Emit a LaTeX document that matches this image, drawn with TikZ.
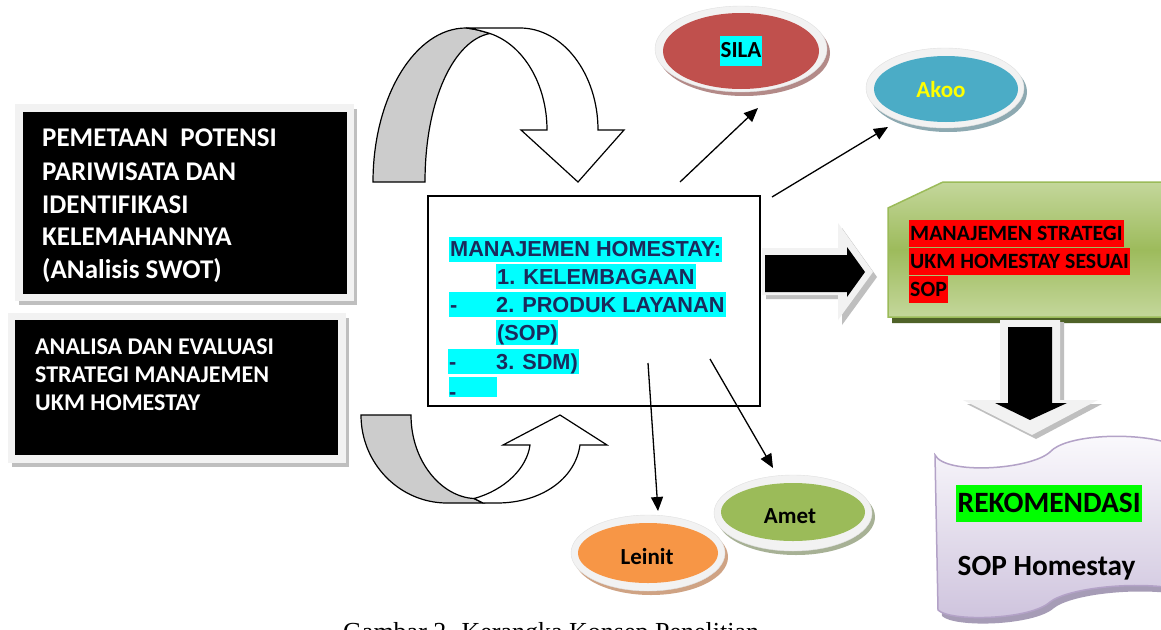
\documentclass[tikz,border=0pt]{standalone}
\usepackage{fontspec}
\setmainfont{Carlito}
\newfontfamily\arialf{Liberation Sans}
\newfontfamily\timesf{Liberation Serif}
\usetikzlibrary{shapes.geometric,arrows.meta}
\definecolor{navytext}{HTML}{1B2A5C}
\definecolor{rimgray}{HTML}{F2F2F2}
\definecolor{shgray}{HTML}{BFBFBF}
\definecolor{bandgray}{HTML}{CCCCCC}
\definecolor{silared}{HTML}{C0504D}
\definecolor{silash}{HTML}{B38A88}
\definecolor{akooblue}{HTML}{4BACC6}
\definecolor{akoosh}{HTML}{8DA9B1}
\definecolor{leinitor}{HTML}{F79646}
\definecolor{leinitsh}{HTML}{CFA384}
\definecolor{ametgr}{HTML}{9BBB59}
\definecolor{ametsh}{HTML}{A7B195}
\definecolor{grlight}{HTML}{C4D79B}
\definecolor{grmid}{HTML}{9DBB5C}
\definecolor{grline}{HTML}{9BBB59}
\definecolor{grdark}{HTML}{4F6228}
\definecolor{lavtop}{HTML}{FBFAFD}
\definecolor{lavbot}{HTML}{CEC3DD}
\definecolor{lavline}{HTML}{B3A2C7}
\definecolor{lavsh}{HTML}{A69CB6}
\definecolor{hlcyan}{HTML}{00FFFF}
\definecolor{hlred}{HTML}{FF0000}
\definecolor{hlgreen}{HTML}{00FF00}
\definecolor{akootext}{HTML}{FFFF00}
\begin{document}
\begin{tikzpicture}[x=1pt,y=-1pt,
  blackbox/.style={fill=black, inner sep=0pt},
  wline/.style={anchor=west, inner sep=0pt, text=white, text height=17pt, text depth=0pt, font=\bfseries\fontsize{27}{32}\selectfont},
  wlinesm/.style={anchor=west, inner sep=0pt, text=white, text height=15.2pt, text depth=0pt, font=\bfseries\fontsize{24}{28}\selectfont},
  navyline/.style={anchor=west, fill=hlcyan, text=navytext, inner xsep=1pt, inner ysep=0pt, minimum height=25pt, text height=15.5pt, text depth=0pt, font=\arialf\bfseries\fontsize{21.7}{25}\selectfont},
  redline/.style={anchor=west, fill=hlred, text=black, inner xsep=1pt, inner ysep=0pt, minimum height=27pt, text height=13.9pt, text depth=0pt, font=\bfseries\fontsize{21.8}{26}\selectfont},
  ell/.style={ellipse, inner sep=0pt},
  rim/.style={ell, fill=rimgray, draw=black!12, line width=0.4pt},
  elltext/.style={inner sep=0pt, text height=14.5pt, text depth=0pt, font=\bfseries\fontsize{23}{27}\selectfont},
  thinarrow/.style={line width=1.3pt, -{Triangle[length=14pt,width=12pt]}},
  band/.style={draw=black, line width=1.2pt, line join=miter},
  blockout/.style={fill=rimgray},
  blockshadow/.style={fill=shgray}
]
\useasboundingbox (0,0) rectangle (1161,629);
\fill[white] (0,0) rectangle (1161,629);

% ---------- left black boxes ----------
\fill[shgray] (19,109) rectangle (357,305);
\fill[rimgray] (15,104) rectangle (354,301);
\node[blackbox, minimum width=324pt, minimum height=182pt] (b1) at (185,203) {};
\node[wline] (b1l1) at (42,138) {PEMETAAN\ \ POTENSI};
\node[wline] (b1l2) at (42,172) {PARIWISATA DAN};
\node[wline] (b1l3) at (42,205) {IDENTIFIKASI};
\node[wline] (b1l4) at (42,237) {KELEMAHANNYA};
\node[wline] (b1l5) at (42,270) {(ANalisis SWOT)};

\fill[shgray] (12,318) rectangle (349,467);
\fill[rimgray] (8,313) rectangle (346,463);
\node[blackbox, minimum width=323pt, minimum height=135pt] (b2) at (176.5,387.5) {};
\node[wlinesm] (b2l1) at (35,347) {ANALISA DAN EVALUASI};
\node[wlinesm] (b2l2) at (35,375) {STRATEGI MANAJEMEN};
\node[wlinesm] (b2l3) at (35,403) {UKM HOMESTAY};

% ---------- top curved arrow ----------
\path[band, fill=bandgray] (373,182) .. controls (373,97) and (415,28) .. (466,28)
   .. controls (475,29) and (482,31) .. (490,33.5)
   .. controls (454,40) and (425,100) .. (425,182) -- cycle;
\path[band, fill=white] (466,28) -- (520,28) .. controls (563,28) and (598,74) .. (598,130)
   -- (624,130) -- (578,182) -- (521,130) -- (547,130)
   .. controls (547,85) and (524,45) .. (490,33.5)
   .. controls (482,31) and (475,29) .. (466,28) -- cycle;

% ---------- bottom curved arrow ----------
\path[band, fill=bandgray] (361,415) -- (411,415) .. controls (411,462) and (442,497) .. (474,498.5)
   -- (483,503) -- (447,503) .. controls (400,503) and (361,464) .. (361,415) -- cycle;
\path[band, fill=white] (474,498.5) .. controls (505,490) and (527,468) .. (530,445)
   -- (503,445) -- (560,415) -- (607,445) -- (580,445)
   .. controls (575,480) and (540,503) .. (497,503) -- (483,503) -- cycle;

% ---------- central box ----------
\node[draw=black, line width=1.4pt, fill=white, minimum width=332pt, minimum height=210pt, inner sep=0pt] (mh) at (594,301) {};
\node[navyline] (mh1) at (449,249) {MANAJEMEN HOMESTAY:};
\node[navyline] (mh2) at (496,276.5) {1. KELEMBAGAAN};
\node[navyline] (mh3) at (449,304.5) {\makebox[46pt][l]{-}2. PRODUK LAYANAN};
\node[navyline] (mh4) at (496,332.5) {(SOP)};
\node[navyline] (mh5) at (448,361.5) {\makebox[47pt][l]{-}3. SDM)};
\node[fill=hlcyan, inner sep=0pt, minimum width=48pt, minimum height=20pt] (mh6) at (473,387) {};
\node[anchor=base west, inner sep=0pt, text=navytext, font=\arialf\bfseries\fontsize{21.7}{25}\selectfont] (mh6d) at (449,399) {-};

% ---------- right block arrow ----------
\path[blockshadow] (766,253) -- (842,253) -- (842,228) -- (877,277) -- (842,325) -- (842,299) -- (766,299) -- cycle;
\path[blockout] (762,248) -- (838,248) -- (838,223) -- (873,272) -- (838,320) -- (838,295) -- (762,295) -- cycle;
\path[fill=black] (765,255) -- (847,255) -- (847,247) -- (865,272) -- (847,297) -- (847,292) -- (765,292) -- cycle;

% ---------- green box ----------
\path[fill=grdark] (892,213) -- (947,187) -- (1165,187) -- (1165,323) -- (892,323) -- cycle;
\path[draw=grline, line width=1.5pt, top color=grlight, bottom color=grlight, middle color=grmid]
   (888,208) -- (943,182) -- (1165,182) -- (1165,317) -- (888,317) -- cycle;
\node[redline] (gr1) at (909,233.5) {MANAJEMEN STRATEGI};
\node[redline] (gr2) at (909,261.5) {UKM HOMESTAY SESUAI};
\node[redline] (gr3) at (909,289.5) {SOP};

% ---------- down block arrow ----------
\path[blockshadow] (1004,322) -- (1064,322) -- (1064,404) -- (1102,404) -- (1036,439) -- (967,404) -- (1004,404) -- cycle;
\path[blockout] (1000,320) -- (1060,320) -- (1060,400) -- (1098,400) -- (1032,435) -- (963,400) -- (1000,400) -- cycle;
\path[fill=black] (1008,327) -- (1052,327) -- (1052,403) -- (1067,403) -- (1030,420) -- (995,403) -- (1008,403) -- cycle;

% ---------- scroll (recommendation) ----------
\path[fill=lavsh] (939,461) .. controls (949,481) and (1034,476) .. (1054,458)
   .. controls (1069,441) and (1134,438) .. (1169,448) -- (1169,593)
   .. controls (1124,588) and (1069,596) .. (1054,608)
   .. controls (1034,626) and (954,628) .. (942,616) -- cycle;
\path[draw=lavline, line width=1.5pt, top color=lavtop, bottom color=lavbot]
   (935,455) .. controls (945,475) and (1030,470) .. (1050,452)
   .. controls (1065,435) and (1130,432) .. (1165,442) -- (1165,587)
   .. controls (1120,582) and (1065,590) .. (1050,602)
   .. controls (1030,620) and (950,622) .. (938,610) -- cycle;
\node[anchor=west, fill=hlgreen, inner xsep=1.5pt, inner ysep=0pt, minimum height=37pt, text height=18.6pt, text depth=0pt, font=\bfseries\fontsize{29.5}{33}\selectfont] (rek) at (956,503.5) {REKOMENDASI};
\node[anchor=west, inner sep=0pt, text height=18.6pt, text depth=0pt, font=\bfseries\fontsize{29.3}{33}\selectfont] (soph) at (957.5,566.5) {SOP Homestay};

% ---------- ellipses ----------
\node[ell, fill=silash, minimum width=172pt, minimum height=86pt] (silash) at (744,53) {};
\node[rim, minimum width=172pt, minimum height=86pt] (silarim) at (741,49) {};
\node[ell, fill=silared, minimum width=156pt, minimum height=76pt] (sila) at (741,51) {};
\node[elltext, fill=hlcyan, inner xsep=1pt, minimum height=30pt] (silat) at (741,50.5) {SILA};

\node[ell, fill=akoosh, minimum width=158pt, minimum height=80pt] (akoosh) at (948,92) {};
\node[rim, minimum width=158pt, minimum height=80pt] (akoorim) at (945,88) {};
\node[ell, fill=akooblue, minimum width=144pt, minimum height=66pt] (akoo) at (946,89) {};
\node[elltext, text=akootext] (akoot) at (941,90) {Akoo};

\node[ell, fill=leinitsh, minimum width=154pt, minimum height=76pt] (leinitsh) at (651,557) {};
\node[rim, minimum width=154pt, minimum height=76pt] (leinitrim) at (648,553) {};
\node[ell, fill=leinitor, minimum width=140pt, minimum height=60pt] (leinit) at (648,553) {};
\node[elltext] (leinitt) at (647,557) {Leinit};

\node[ell, fill=ametsh, minimum width=158pt, minimum height=76pt] (ametsh) at (796,517) {};
\node[rim, minimum width=158pt, minimum height=76pt] (ametrim) at (793,513) {};
\node[ell, fill=ametgr, minimum width=144pt, minimum height=58pt] (amet) at (793,512) {};
\node[elltext] (ametat) at (790,516) {Amet};

% ---------- thin arrows ----------
\coordinate (s1) at (680,182); \coordinate (t1) at (758,108);
\coordinate (s2) at (772,197); \coordinate (t2) at (888,127);
\coordinate (s3) at (648,363); \coordinate (t3) at (658,511);
\coordinate (s4) at (710,359); \coordinate (t4) at (773,468);
\draw[thinarrow] (s1) -- (t1);
\draw[thinarrow] (s2) -- (t2);
\draw[thinarrow] (s3) -- (t3);
\draw[thinarrow] (s4) -- (t4);

% ---------- caption ----------
\node[anchor=base west, inner sep=0pt, font=\timesf\fontsize{26}{30}\selectfont] (cap) at (343,640) {Gambar 2. Kerangka Konsep Penelitian};
\end{tikzpicture}
\end{document}
